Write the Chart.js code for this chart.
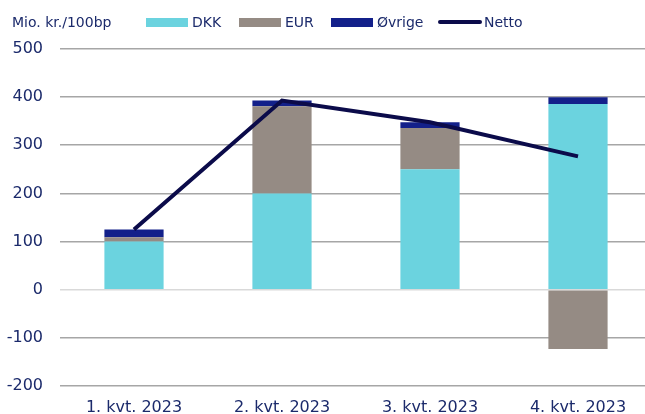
<!DOCTYPE html>
<html>
<head>
<meta charset="utf-8">
<script src="https://cdn.jsdelivr.net/npm/chart.js@4/dist/chart.umd.min.js"></script>
<style>
  html, body { margin: 0; padding: 0; background: #fff; overflow: hidden; }
  #wrap { width: 652px; height: 414px; }
</style>
</head>
<body>
<div id="wrap"><canvas id="grafico"></canvas></div>
<script>
const kvartaler = ["1. kvt. 2023", "2. kvt. 2023", "3. kvt. 2023", "4. kvt. 2023"];
const dkk = [100, 200, 250, 386];
const eur = [9, 181, 86, -123];
const ovrige = [16, 12, 12, 14];
const netto = [125, 393, 348, 277];
const yTicks = [-200, -100, 0, 100, 200, 300, 400, 500];

const tekstFarve = "#1b2a6b";

// egen legende + enhedstekst oeverst
const legendeX = [146, 239, 331, 438];
const headerPlugin = {
  id: "header",
  afterDraw(chart) {
    const ctx = chart.ctx;
    ctx.save();
    ctx.font = "14px 'DejaVu Sans'";
    ctx.textBaseline = "middle";
    ctx.fillStyle = tekstFarve;
    ctx.fillText("Mio. kr./100bp", 12, 23);
    chart.data.datasets.forEach((ds, i) => {
      const x = legendeX[i];
      if (ds.type === "line") {
        ctx.strokeStyle = ds.borderColor;
        ctx.lineWidth = 4;
        ctx.lineCap = "round";
        ctx.beginPath();
        ctx.moveTo(x + 2, 22);
        ctx.lineTo(x + 42, 22);
        ctx.stroke();
      } else {
        ctx.fillStyle = ds.backgroundColor;
        ctx.fillRect(x, 18, 42, 9);
      }
      ctx.fillStyle = tekstFarve;
      ctx.fillText(ds.label, x + 46, 23);
    });
    ctx.restore();
  },
};

const ctx = document.getElementById("grafico").getContext("2d");
const grafico = new Chart(ctx, {
  type: "bar",
  data: {
    labels: kvartaler,
    datasets: [
      { label: "DKK", data: dkk, backgroundColor: "#6bd3df", order: 1 },
      { label: "EUR", data: eur, backgroundColor: "#958b84", order: 1 },
      { label: "Øvrige", data: ovrige, backgroundColor: "#13208a", order: 1 },
      {
        type: "line",
        label: "Netto",
        data: netto,
        borderColor: "#0b0b4a",
        backgroundColor: "#0b0b4a",
        borderWidth: 4,
        pointRadius: 0,
        tension: 0,
        stack: "netto",
        order: 0,
      },
    ],
  },
  options: {
    responsive: true,
    maintainAspectRatio: false,
    animation: false,
    layout: { padding: { top: 49, left: 0, right: 0, bottom: 0 } },
    datasets: {
      bar: { categoryPercentage: 1, barPercentage: 0.4 },
    },
    scales: {
      x: {
        stacked: true,
        grid: { display: false, drawTicks: false },
        border: { display: false },
        afterFit: axis => {
          axis.height = 28;
        },
        ticks: {
          color: tekstFarve,
          font: { family: "DejaVu Sans", size: 16 },
          padding: 12,
          maxRotation: 0,
        },
      },
      y: {
        stacked: true,
        min: -200,
        max: 500,
        afterBuildTicks: axis => {
          axis.ticks = yTicks.map(v => ({ value: v }));
        },
        afterFit: axis => {
          axis.width = 60;
        },
        grid: {
          color: c => (c.tick && c.tick.value === 0 ? "#d9d9d9" : "#a6a6a6"),
          lineWidth: 1.6,
          drawTicks: false,
        },
        border: { display: false },
        ticks: {
          color: tekstFarve,
          font: { family: "DejaVu Sans", size: 16 },
          padding: 17,
        },
      },
    },
    plugins: {
      legend: { display: false },
      tooltip: { enabled: false },
    },
  },
  plugins: [headerPlugin],
});
</script>
</body>
</html>
